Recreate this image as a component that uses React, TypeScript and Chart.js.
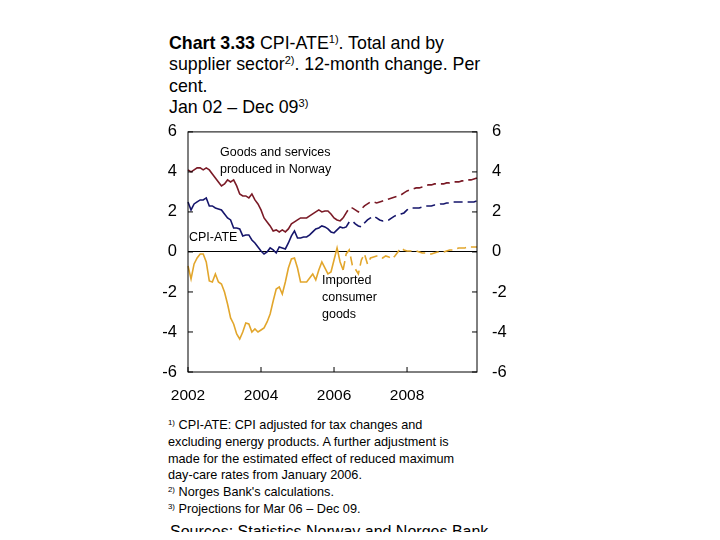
import { useEffect, useRef } from 'react'
import { Chart, ChartConfiguration, registerables } from 'chart.js'

Chart.register(...registerables)

// monthly labels Jan 2002 - Dec 2009
const months: string[] = []
for (let y = 2002; y <= 2009; y++) {
  for (let m = 1; m <= 12; m++) months.push(`${y}-${String(m).padStart(2, '0')}`)
}

const yTicks = [6, 4, 2, 0, -2, -4, -6]
const yearTicks = ['2002', '2004', '2006', '2008']

// index of first projected segment (Mar 06)
const projectionStart = 51

const goodsNorway = [
  4.1, 4.0, 4.1, 4.2, 4.2, 4.1, 4.2, 4.1, 3.9, 3.7, 3.5, 3.3,
  3.4, 3.6, 3.5, 3.6, 3.3, 2.9, 2.8, 2.8, 2.7, 2.9, 2.6, 2.4,
  2.1, 1.7, 1.5, 1.3, 1.05, 1.1, 1.0, 1.1, 1.0, 1.15, 1.4, 1.5,
  1.6, 1.7, 1.7, 1.7, 1.8, 1.9, 2.0, 2.1, 2.0, 2.05, 2.05, 1.9,
  1.7, 1.6, 1.55, 1.7, 1.95, 2.2, 2.2, 2.1, 2.0, 2.15, 2.3, 2.4,
  2.5, 2.5, 2.45, 2.5, 2.55, 2.6, 2.65, 2.7, 2.75, 2.8, 2.85, 2.95,
  3.05, 3.1, 3.15, 3.2, 3.2, 3.25, 3.3, 3.35, 3.35, 3.4, 3.4, 3.4,
  3.4, 3.45, 3.45, 3.5, 3.5, 3.5, 3.55, 3.55, 3.6, 3.6, 3.65, 3.7,
]

const cpiAte = [
  2.5, 2.1, 2.4, 2.5, 2.6, 2.6, 2.7, 2.3, 2.3, 2.2, 2.15, 2.1,
  1.9, 1.7, 1.6, 1.2, 1.2, 1.15, 0.8, 0.85, 0.85, 0.6, 0.45, 0.25,
  0.05, -0.1, 0.0, 0.2, 0.1, -0.05, 0.25, 0.2, 0.15, 0.45, 0.8, 1.05,
  0.7, 0.7, 0.75, 0.75, 0.85, 1.0, 1.15, 1.2, 1.3, 1.25, 1.15, 1.0,
  0.95, 1.1, 1.25, 1.2, 1.25, 1.5, 1.55, 1.4, 1.3, 1.25, 1.45, 1.6,
  1.7, 1.8, 1.7, 1.6, 1.55, 1.6, 1.6, 1.7, 1.8, 1.85, 1.9, 1.95,
  2.1, 2.2, 2.2, 2.2, 2.2, 2.25, 2.3, 2.3, 2.3, 2.35, 2.35, 2.4,
  2.4, 2.45, 2.45, 2.5, 2.5, 2.5, 2.5, 2.5, 2.5, 2.5, 2.5, 2.55,
]

const importedGoods = [
  -0.7, -1.35, -0.6, -0.3, -0.1, -0.1, -0.5, -1.45, -1.5, -1.1, -1.5, -1.6,
  -2.0, -2.6, -3.3, -3.6, -4.1, -4.35, -4.0, -3.55, -3.6, -4.0, -3.85, -4.0,
  -3.9, -3.8, -3.5, -3.1, -2.45, -1.85, -1.75, -2.1, -1.5, -0.8, -0.35, -0.3,
  -0.8, -1.5, -1.5, -1.5, -1.3, -1.1, -1.4, -0.9, -0.5, -0.8, -1.1, -1.0,
  -0.4, 0.2, -0.5, -0.9, -0.1, 0.1, -0.65, -0.85, -1.1, -0.4, -0.1, -0.6,
  -0.3, -0.25, -0.2, -0.2, -0.3, -0.2, -0.25, -0.35, -0.2, 0.0, 0.2, 0.1,
  0.05, 0.05, 0.05, 0.05, 0.0, -0.05, -0.05, -0.1, -0.1, -0.05, 0.0, 0.0,
  0.0, 0.05, 0.1, 0.1, 0.15, 0.2, 0.2, 0.2, 0.25, 0.25, 0.25, 0.25,
]

const FONT = 'Arial, "Liberation Sans", sans-serif'

const projDash = (ctx: any) => (ctx.p0DataIndex >= projectionStart ? [9, 5] : undefined)

function series(label: string, data: number[], color: string) {
  return {
    label,
    data,
    borderColor: color,
    borderWidth: 1.6,
    pointRadius: 0,
    tension: 0,
    segment: { borderDash: projDash },
  }
}

// box round the plot, inner tick marks
const frame = {
  id: 'frame',
  afterDatasetsDraw(chart: any) {
    const { ctx, chartArea: a, scales } = chart
    ctx.save()
    ctx.strokeStyle = '#000'
    ctx.lineWidth = 1
    ctx.strokeRect(a.left, a.top, a.right - a.left, a.bottom - a.top)
    ctx.beginPath()
    yTicks.forEach((v) => {
      const y = scales.y.getPixelForValue(v)
      ctx.moveTo(a.left, y)
      ctx.lineTo(a.left + 5, y)
      ctx.moveTo(a.right, y)
      ctx.lineTo(a.right - 5, y)
    })
    months.forEach((m, i) => {
      if (i % 24 !== 0) return
      const x = scales.x.getPixelForValue(i)
      ctx.moveTo(x, a.bottom)
      ctx.lineTo(x, a.bottom - 5)
    })
    ctx.stroke()
    ctx.restore()
  },
}

function CpiChart() {
  const canvasRef = useRef<HTMLCanvasElement>(null)
  const chartRef = useRef<Chart | null>(null)

  useEffect(() => {
    if (!canvasRef.current) return
    if (chartRef.current) chartRef.current.destroy()
    const ctx = canvasRef.current.getContext('2d')
    if (!ctx) return

    const tickFont = { family: FONT, size: 16.5 }

    const config: ChartConfiguration = {
      type: 'line',
      data: {
        labels: months,
        datasets: [
          series('Goods and services produced in Norway', goodsNorway, '#7a1a26'),
          series('CPI-ATE', cpiAte, '#15156b'),
          series('Imported consumer goods', importedGoods, '#e2a62c'),
        ],
      },
      options: {
        animation: false,
        responsive: true,
        maintainAspectRatio: false,
        layout: { padding: { top: 10, left: 0, right: 0, bottom: 0 } },
        plugins: {
          legend: { display: false },
          tooltip: { enabled: false },
        },
        scales: {
          x: {
            type: 'category',
            offset: false,
            border: { display: false },
            grid: { display: false, drawTicks: false },
            afterFit: (s: any) => { s.height = 30 },
            ticks: {
              autoSkip: false,
              maxRotation: 0,
              padding: 14,
              color: '#000',
              font: { family: FONT, size: 15.5 },
              callback: (_v: any, i: number) => {
                const y = months[i].slice(0, 4)
                return i % 12 === 0 && yearTicks.includes(y) ? y : null
              },
            },
          },
          y: {
            position: 'left',
            min: -6,
            max: 6,
            border: { display: false },
            afterFit: (s: any) => { s.width = 48 },
            grid: {
              drawTicks: false,
              color: (c: any) => (c.tick && c.tick.value === 0 ? '#000' : 'rgba(0,0,0,0)'),
            },
            afterBuildTicks: (s: any) => { s.ticks = yTicks.map((v) => ({ value: v })) },
            ticks: { padding: 11, color: '#000', font: tickFont },
          },
          y2: {
            position: 'right',
            min: -6,
            max: 6,
            border: { display: false },
            afterFit: (s: any) => { s.width = 43 },
            grid: { display: false, drawTicks: false },
            afterBuildTicks: (s: any) => { s.ticks = yTicks.map((v) => ({ value: v })) },
            ticks: { padding: 15, color: '#000', font: tickFont },
          },
        },
      },
      plugins: [frame],
    }

    chartRef.current = new Chart(ctx, config)

    return () => {
      if (chartRef.current) {
        chartRef.current.destroy()
        chartRef.current = null
      }
    }
  }, [])

  return (
    <div style={{ position: 'absolute', left: 140, top: 107, width: 380, height: 295 }}>
      <canvas ref={canvasRef} />
    </div>
  )
}

const abs = (left: number, top: number, size: number, lh: number): React.CSSProperties => ({
  position: 'absolute',
  left,
  top,
  fontSize: size,
  lineHeight: `${lh}px`,
  whiteSpace: 'nowrap',
})

const sup: React.CSSProperties = {
  fontSize: '0.62em',
  position: 'relative',
  top: '-0.55em',
  lineHeight: 0,
}

export default function App() {
  return (
    <div
      style={{
        position: 'relative',
        width: 720,
        height: 540,
        margin: -8,
        overflow: 'hidden',
        background: '#fff',
        fontFamily: FONT,
        color: '#000',
      }}
    >
      <div style={abs(169, 33, 17.8, 21.4)}>
        <b>Chart 3.33</b> CPI-ATE<span style={sup}>1)</span>. Total and by
        <br />
        supplier sector<span style={sup}>2)</span>. 12-month change. Per
        <br />
        cent.
        <br />
        Jan 02 – Dec 09<span style={sup}>3)</span>
      </div>

      <CpiChart />

      <div style={abs(220, 144, 12.5, 17)}>
        Goods and services
        <br />
        produced in Norway
      </div>
      <div style={abs(189, 229, 12.5, 17)}>CPI-ATE</div>
      <div style={abs(322, 272, 12.5, 17)}>
        Imported
        <br />
        consumer
        <br />
        goods
      </div>

      <div style={abs(168, 417, 12.7, 16.8)}>
        <span style={sup}>1)</span> CPI-ATE: CPI adjusted for tax changes and
        <br />
        excluding energy products. A further adjustment is
        <br />
        made for the estimated effect of reduced maximum
        <br />
        day-care rates from January 2006.
        <br />
        <span style={sup}>2)</span> Norges Bank's calculations.
        <br />
        <span style={sup}>3)</span> Projections for Mar 06 – Dec 09.
      </div>
      <div style={abs(170, 522, 16, 20)}>Sources: Statistics Norway and Norges Bank</div>
    </div>
  )
}
